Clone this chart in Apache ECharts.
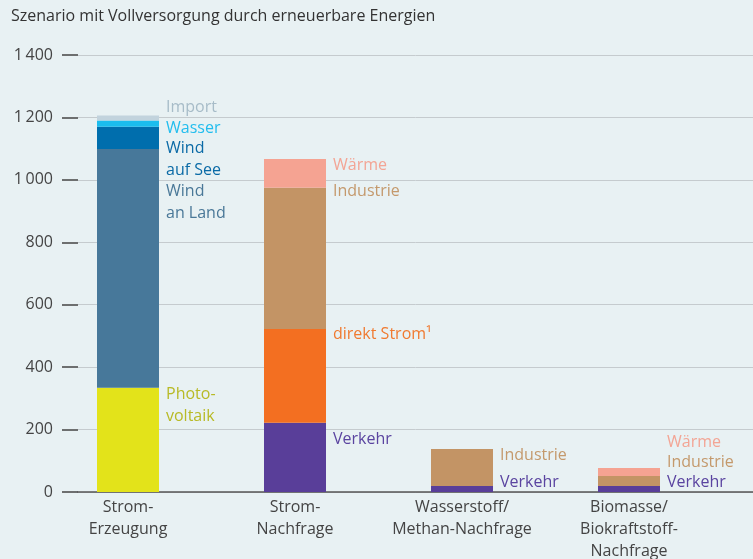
<!DOCTYPE html>
<html>
<head>
<meta charset="utf-8">
<script src="https://cdn.jsdelivr.net/npm/echarts@6/dist/echarts.min.js"></script>
<style>
  html, body { margin: 0; padding: 0; background: #e8f1f3; }
  #chart { width: 753px; height: 559px; }
</style>
</head>
<body>
<div id="chart"></div>
<script>
// Daten (TWh)
const categories = ['Strom-\nErzeugung', 'Strom-\nNachfrage', 'Wasserstoff/\nMethan-Nachfrage', 'Biomasse/\nBiokraftstoff-\nNachfrage'];
const yTicks = [0, 200, 400, 600, 800, 1000, 1200, 1400];

const photovoltaik = [334, '-', '-', '-'];
const windAnLand = [765, '-', '-', '-'];
const windAufSee = [71, '-', '-', '-'];
const wasser = [20, '-', '-', '-'];
const importStrom = [16, '-', '-', '-'];

const verkehr = ['-', 222, 19, 19];
const direktStrom = ['-', 300, '-', '-'];
const industrie = ['-', 453, 119, 32];
const waerme = ['-', 92, '-', 26];

const font = '"Open Sans", sans-serif';
const chart = echarts.init(document.getElementById('chart'));

// Beschriftung rechts neben dem Segment; dy = Abstand Textmitte zur Oberkante
function withLabels(values, text, color, dys) {
  return values.map((v, i) => {
    if (v === '-') return v;
    return {
      value: v,
      label: {
        show: true,
        formatter: text,
        position: ['100%', dys[i]],
        offset: [7, 0],
        align: 'left',
        verticalAlign: 'middle',
        color: color,
        fontFamily: font,
        fontSize: 16,
        lineHeight: 22
      }
    };
  });
}

function barSeries(name, values, fill, text, textColor, dys) {
  return {
    name: name,
    type: 'bar',
    stack: 'total',
    xAxisIndex: 0,
    yAxisIndex: 0,
    barWidth: 62,
    itemStyle: { color: fill },
    data: withLabels(values, text, textColor, dys),
    animation: false
  };
}

const option = {
  backgroundColor: '#e8f1f3',
  title: {
    text: 'Szenario mit Vollversorgung durch erneuerbare Energien',
    left: 11,
    top: 8,
    padding: 0,
    textStyle: { fontFamily: font, fontSize: 16, fontWeight: 'normal', color: '#333' }
  },
  grid: [
    { left: 44.5, right: 40.5, top: 55, bottom: 67, outerBoundsMode: 'none', containLabel: false },
    { left: 78, right: 0, top: 55, bottom: 67, outerBoundsMode: 'none', containLabel: false }
  ],
  xAxis: [
    {
      type: 'category',
      gridIndex: 0,
      data: categories,
      axisLine: { show: false },
      axisTick: { show: false },
      axisLabel: { interval: 0, color: '#444', fontFamily: font, fontSize: 16, lineHeight: 22, margin: 4 }
    },
    {
      type: 'value',
      gridIndex: 1,
      axisLine: { show: true, onZero: false, lineStyle: { color: '#555', width: 1.5 } },
      axisTick: { show: false },
      axisLabel: { show: false },
      splitLine: { show: false }
    }
  ],
  yAxis: [
    {
      type: 'value',
      gridIndex: 0,
      min: 0,
      max: 1400,
      interval: 200,
      axisLine: { show: false },
      axisTick: { show: false },
      axisLabel: { show: false },
      splitLine: { show: false }
    },
    {
      type: 'value',
      gridIndex: 1,
      min: yTicks[0],
      max: yTicks[yTicks.length - 1],
      interval: 200,
      axisLine: { show: false },
      axisTick: { show: true, length: 16, lineStyle: { color: '#444', width: 1.5 } },
      axisLabel: {
        color: '#444',
        fontFamily: font,
        fontSize: 16,
        margin: 25,
        formatter: v => (v >= 1000 ? Math.floor(v / 1000) + '\u2009' + String(v % 1000).padStart(3, '0') : String(v))
      },
      splitLine: { show: true, lineStyle: { color: '#c5cbce', width: 1 } }
    }
  ],
  series: [
    barSeries('Photovoltaik', photovoltaik, '#e3e31a', 'Photo-\nvoltaik', '#b8ba26', [18]),
    barSeries('Wind an Land', windAnLand, '#47789a', 'Wind\nan Land', '#4a7898', [53]),
    barSeries('Wind auf See', windAufSee, '#006ead', 'Wind\nauf See', '#0a6aa6', [32.5]),
    barSeries('Wasser', wasser, '#1bbdee', 'Wasser', '#22bdee', [7.5]),
    barSeries('Import', importStrom, '#c2d3dd', 'Import', '#a7bcc8', [-8]),
    barSeries('Verkehr', verkehr, '#593e99', 'Verkehr', '#5a44a0', [0, 17, -4, -4]),
    barSeries('direkt Strom', direktStrom, '#f36f21', 'direkt Strom¹', '#f07a30', [0, 5]),
    barSeries('Industrie', industrie, '#c39465', 'Industrie', '#c4996c', [0, 4, 6.5, -14]),
    barSeries('Wärme', waerme, '#f5a392', 'Wärme', '#f3a595', [0, 6, 0, -26])
  ]
};

chart.setOption(option);
</script>
</body>
</html>
